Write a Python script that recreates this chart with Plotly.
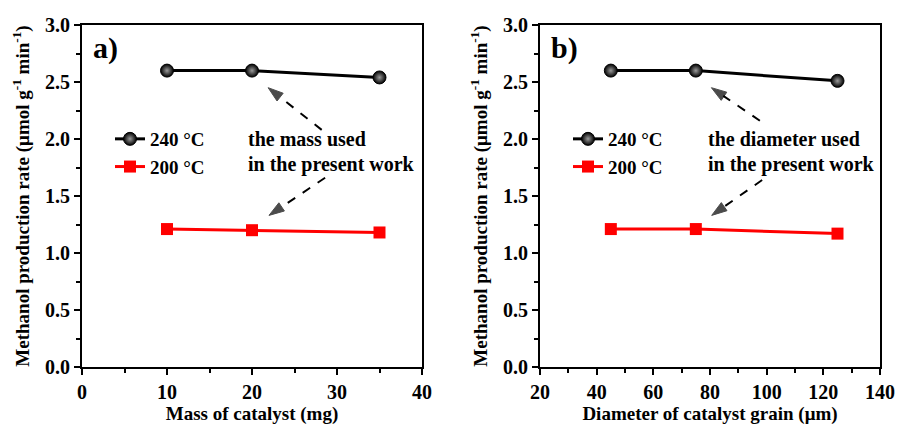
import plotly.graph_objects as go

# ---- data ----
mass_mg = [10, 20, 35]
mass_240 = [2.60, 2.60, 2.54]
mass_200 = [1.21, 1.20, 1.18]

diam_um = [45, 75, 125]
diam_240 = [2.60, 2.60, 2.51]
diam_200 = [1.21, 1.21, 1.17]

series_names = ["240 °C", "200 °C"]
ylab = "Methanol production rate (μmol g<sup>-1</sup> min<sup>-1</sup>)"

# dashed pointer arrows (tail -> head), data coordinates
arrow_a_x = [[28.2, 21.9], [28.6, 22.0]]
arrow_a_y = [[2.08, 2.45], [1.66, 1.33]]
arrow_b_x = [[97.6, 80.5], [98.4, 80.6]]
arrow_b_y = [[2.16, 2.45], [1.64, 1.33]]

FONT = "Liberation Serif"

fig = go.Figure()

def add_pair(x, y240, y200, xa, ya, leg):
    fig.add_trace(go.Scatter(
        x=x, y=y240, name=series_names[0], xaxis=xa, yaxis=ya, legend=leg,
        mode="lines+markers", line=dict(color="black", width=3),
        marker=dict(symbol="circle", size=13, color="black",
                    gradient=dict(type="radial", color="#9a9a9a"),
                    line=dict(color="black", width=1))))
    fig.add_trace(go.Scatter(
        x=x, y=y200, name=series_names[1], xaxis=xa, yaxis=ya, legend=leg,
        mode="lines+markers", line=dict(color="#ff0000", width=3),
        marker=dict(symbol="square", size=12, color="#ff0000")))

def add_arrows(xs, ys, xa, ya):
    for ax_, ay_ in zip(xs, ys):
        fig.add_trace(go.Scatter(
            x=ax_, y=ay_, xaxis=xa, yaxis=ya, showlegend=False, hoverinfo="skip",
            mode="lines+markers", line=dict(color="black", width=2, dash="dash"),
            marker=dict(symbol="arrow", angleref="previous", size=[0, 16],
                        color="black", line=dict(width=1, color="black"))))

add_pair(mass_mg, mass_240, mass_200, "x", "y", "legend")
add_pair(diam_um, diam_240, diam_200, "x2", "y2", "legend2")
add_arrows(arrow_a_x, arrow_a_y, "x", "y")
add_arrows(arrow_b_x, arrow_b_y, "x2", "y2")

ydom = [58 / 425, 400 / 425]
common_axis = dict(
    showline=True, linecolor="black", linewidth=2, mirror=True,
    ticks="outside", ticklen=6, tickwidth=2, tickcolor="black",
    showgrid=False, zeroline=False, automargin=False,
    tickfont=dict(family=FONT, size=20, color="black", weight="bold"),
)
title_font = dict(family=FONT, size=19, color="black", weight="bold")
minor_x = dict(ticks="outside", ticklen=4, tickwidth=1.5, tickcolor="black")
legfont = dict(family=FONT, size=19, color="black", weight="bold")

fig.update_layout(
    width=897, height=425,
    margin=dict(l=0, r=0, t=0, b=0, autoexpand=False),
    paper_bgcolor="white", plot_bgcolor="white",
    xaxis=dict(domain=[82 / 897, 422 / 897], range=[0, 40], dtick=10,
               minor=dict(dtick=5, **minor_x),
               title=dict(text="Mass of catalyst (mg)", font=title_font, standoff=7),
               anchor="y", **common_axis),
    yaxis=dict(domain=ydom, range=[0, 3.0], dtick=0.5, tickformat=".1f",
               minor=dict(dtick=0.25, **minor_x),
               title=dict(text=ylab, font=title_font, standoff=10),
               anchor="x", **common_axis),
    xaxis2=dict(domain=[540 / 897, 880 / 897], range=[20, 140], dtick=20,
                minor=dict(dtick=10, **minor_x),
                title=dict(text="Diameter of catalyst grain (μm)", font=title_font, standoff=7),
                anchor="y2", **common_axis),
    yaxis2=dict(domain=ydom, range=[0, 3.0], dtick=0.5, tickformat=".1f",
                minor=dict(dtick=0.25, **minor_x),
                title=dict(text=ylab, font=title_font, standoff=10),
                anchor="x2", **common_axis),
    legend=dict(x=110 / 897, y=1 - 120 / 425, xanchor="left", yanchor="top",
                bgcolor="rgba(0,0,0,0)", tracegroupgap=0, font=legfont),
    legend2=dict(x=568 / 897, y=1 - 120 / 425, xanchor="left", yanchor="top",
                 bgcolor="rgba(0,0,0,0)", tracegroupgap=0, font=legfont),
    showlegend=True,
)

# Panel labels
txtfont = dict(family=FONT, size=20, color="black", weight="bold")
fig.add_annotation(x=1.0, y=2.80, xref="x", yref="y", text="a)", showarrow=False,
                   xanchor="left", font=dict(family=FONT, size=30, color="black", weight="bold"))
fig.add_annotation(x=23.0, y=2.80, xref="x2", yref="y2", text="b)", showarrow=False,
                   xanchor="left", font=dict(family=FONT, size=30, color="black", weight="bold"))

# Explanatory text
for xr, yr, xv, l1 in [("x", "y", 19.3, "the mass used"), ("x2", "y2", 78.5, "the diameter used")]:
    fig.add_annotation(x=xv, y=2.00, xref=xr, yref=yr, text=l1, showarrow=False,
                       xanchor="left", font=txtfont)
    fig.add_annotation(x=xv, y=1.78, xref=xr, yref=yr, text="in the present work",
                       showarrow=False, xanchor="left", font=txtfont)

fig.write_html("out.html")
